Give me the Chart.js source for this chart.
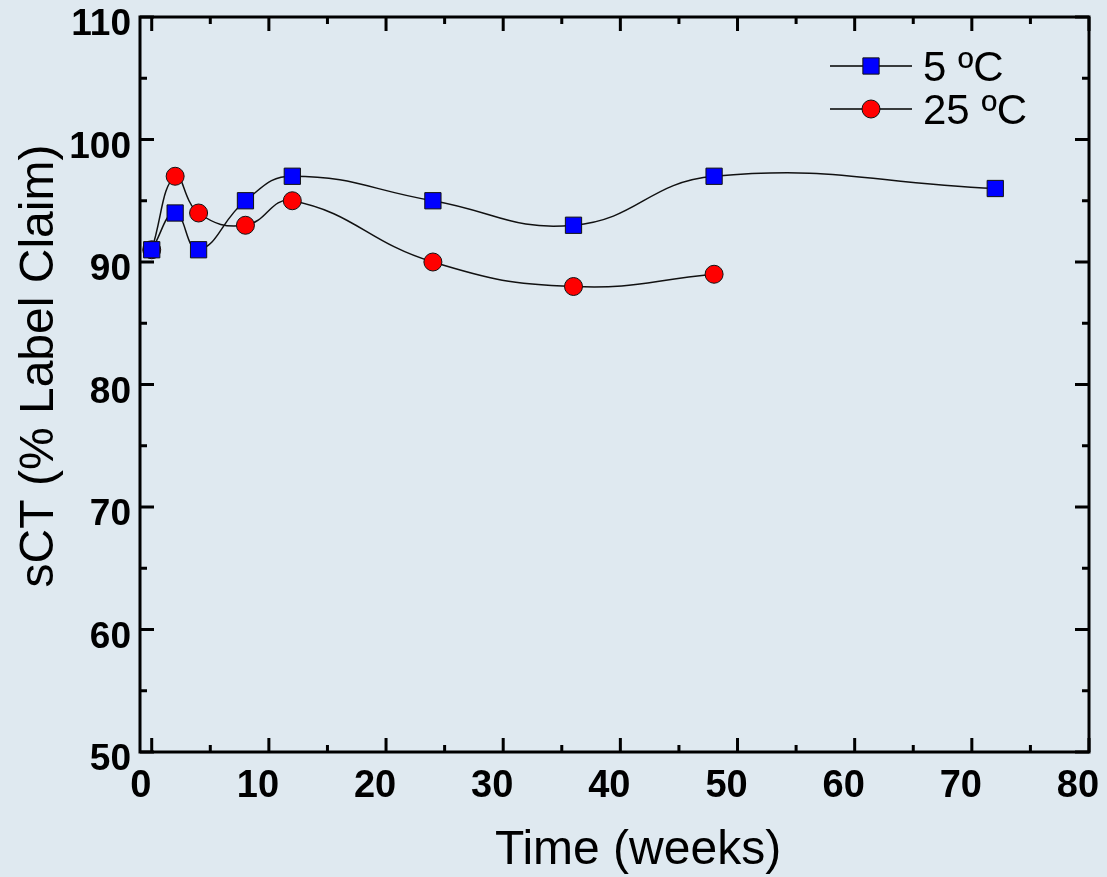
<!DOCTYPE html>
<html>
<head>
<meta charset="utf-8">
<script src="https://cdn.jsdelivr.net/npm/chart.js@4.4.1/dist/chart.umd.min.js"></script>
<style>
  html, body { margin: 0; padding: 0; background: #dfe9f0; }
  #wrap { width: 1107px; height: 877px; position: relative; }
</style>
</head>
<body>
<div id="wrap"><canvas id="myChart"></canvas></div>
<script>
// data
const weeks5 = [0, 2, 4, 8, 12, 24, 36, 48, 72];
const sct5 = [91, 94, 91, 95, 97, 95, 93, 97, 96];
const weeks25 = [0, 2, 4, 8, 12, 24, 36, 48];
const sct25 = [91, 97, 94, 93, 95, 90, 88, 89];

const seriesLabels = ["5 ºC", "25 ºC"];
const xTicks = [0, 10, 20, 30, 40, 50, 60, 70, 80];
const yTicks = [50, 60, 70, 80, 90, 100, 110];
const xTitle = "Time (weeks)";
const yTitle = "sCT (% Label Claim)";

const FONT = "'Liberation Sans', Arial, Helvetica, sans-serif";

function toPoints(xs, ys) {
  return xs.map((x, i) => ({ x: x, y: ys[i] }));
}

// frame, inward tick marks (major + minor) on all four sides, axis titles, legend
const framePlugin = {
  id: "frame",
  afterDraw(chart) {
    const ctx = chart.ctx;
    const a = chart.chartArea;
    const xs = chart.scales.x, ys = chart.scales.y;
    ctx.save();
    ctx.strokeStyle = "#000";
    ctx.lineWidth = 3;
    ctx.lineCap = "butt";
    ctx.strokeRect(a.left, a.top, a.right - a.left, a.bottom - a.top);

    const major = 14, minor = 7;
    ctx.beginPath();
    xTicks.forEach((v, i) => {
      const px = xs.getPixelForValue(v);
      ctx.moveTo(px, a.bottom); ctx.lineTo(px, a.bottom - major);
      ctx.moveTo(px, a.top); ctx.lineTo(px, a.top + major);
      if (i < xTicks.length - 1) {
        const m = xs.getPixelForValue((v + xTicks[i + 1]) / 2);
        ctx.moveTo(m, a.bottom); ctx.lineTo(m, a.bottom - minor);
        ctx.moveTo(m, a.top); ctx.lineTo(m, a.top + minor);
      }
    });
    yTicks.forEach((v, i) => {
      const py = ys.getPixelForValue(v);
      ctx.moveTo(a.left, py); ctx.lineTo(a.left + major, py);
      ctx.moveTo(a.right, py); ctx.lineTo(a.right - major, py);
      if (i < yTicks.length - 1) {
        const m = ys.getPixelForValue((v + yTicks[i + 1]) / 2);
        ctx.moveTo(a.left, m); ctx.lineTo(a.left + minor, m);
        ctx.moveTo(a.right, m); ctx.lineTo(a.right - minor, m);
      }
    });
    ctx.stroke();

    // axis titles (not centred on the plot in the original)
    ctx.fillStyle = "#000";
    ctx.font = "48px " + FONT;
    ctx.textAlign = "center";
    ctx.textBaseline = "alphabetic";
    ctx.fillText(xTitle, 638, 864);
    ctx.save();
    ctx.translate(53, 366);
    ctx.rotate(-Math.PI / 2);
    ctx.fillText(yTitle, 0, 0);
    ctx.restore();

    // legend, top right inside the plot
    const lx0 = 830, lx1 = 912, ly0 = 66, step = 43;
    chart.data.datasets.forEach((ds, i) => {
      const y = ly0 + i * step;
      ctx.lineWidth = 1.5;
      ctx.strokeStyle = "#000";
      ctx.beginPath();
      ctx.moveTo(lx0, y); ctx.lineTo(lx1, y);
      ctx.stroke();
      const cx = (lx0 + lx1) / 2;
      ctx.fillStyle = ds.pointBackgroundColor;
      ctx.lineWidth = 1;
      ctx.strokeStyle = "#111";
      ctx.beginPath();
      if (ds.pointStyle === "rect") {
        const s = ds.pointRadius * Math.SQRT1_2;
        ctx.rect(cx - s, y - s, 2 * s, 2 * s);
      } else {
        ctx.arc(cx, y, ds.pointRadius, 0, Math.PI * 2);
      }
      ctx.fill();
      ctx.stroke();
      ctx.fillStyle = "#000";
      ctx.font = "42px " + FONT;
      ctx.textAlign = "left";
      ctx.textBaseline = "alphabetic";
      ctx.fillText(ds.label, 923, y + 15);
    });
    ctx.restore();
  }
};

const ctx = document.getElementById("myChart").getContext("2d");
const myChart = new Chart(ctx, {
  type: "line",
  data: {
    datasets: [
      {
        label: seriesLabels[0],
        data: toPoints(weeks5, sct5),
        borderColor: "#111",
        borderWidth: 1.5,
        pointStyle: "rect",
        pointRadius: 11.5,
        pointBackgroundColor: "#0000ff",
        pointBorderColor: "#111",
        pointBorderWidth: 1,
        tension: 0.45,
        fill: false
      },
      {
        label: seriesLabels[1],
        data: toPoints(weeks25, sct25),
        borderColor: "#111",
        borderWidth: 1.5,
        pointStyle: "circle",
        pointRadius: 9,
        pointBackgroundColor: "#ff0000",
        pointBorderColor: "#111",
        pointBorderWidth: 1,
        tension: 0.45,
        fill: false
      }
    ]
  },
  options: {
    responsive: true,
    maintainAspectRatio: false,
    animation: false,
    layout: { padding: { top: 17, right: 18, bottom: 0, left: 0 } },
    plugins: { legend: { display: false }, tooltip: { enabled: false } },
    scales: {
      x: {
        type: "linear",
        min: -1,
        max: 80,
        afterBuildTicks: (s) => { s.ticks = xTicks.map(v => ({ value: v })); },
        afterFit: (s) => { s.height = 125; s.paddingLeft = 0; s.paddingRight = 0; },
        grid: { display: false, drawTicks: false },
        border: { display: false },
        ticks: {
          color: "#000",
          padding: 16,
          labelOffset: -11,
          maxRotation: 0,
          autoSkip: false,
          font: { family: FONT, size: 38, weight: "bold", lineHeight: 1 }
        }
      },
      y: {
        min: 50,
        max: 110,
        afterBuildTicks: (s) => { s.ticks = yTicks.map(v => ({ value: v })); },
        afterFit: (s) => { s.width = 140; s.paddingTop = 0; s.paddingBottom = 0; },
        grid: { display: false, drawTicks: false },
        border: { display: false },
        ticks: {
          color: "#000",
          padding: 9,
          labelOffset: 8,
          autoSkip: false,
          font: { family: FONT, size: 37, weight: "bold", lineHeight: 1 }
        }
      }
    }
  },
  plugins: [framePlugin]
});
</script>
</body>
</html>
